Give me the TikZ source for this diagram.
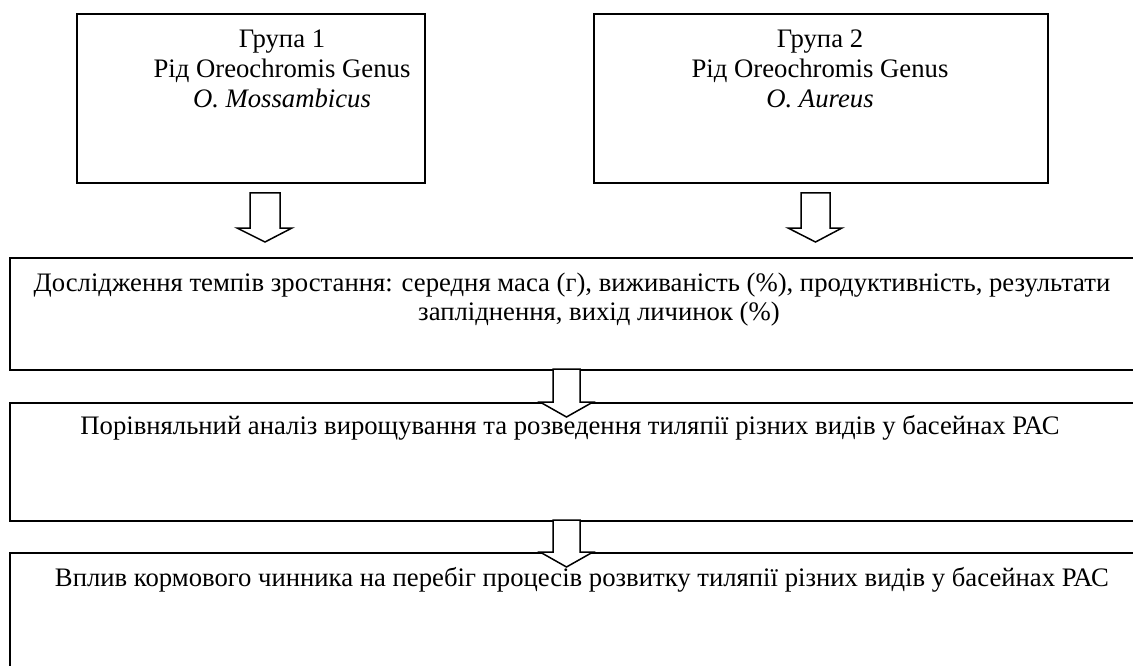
\documentclass[tikz,border=0pt]{standalone}
\usepackage{fontspec}
\setmainfont{Liberation Serif}
\usetikzlibrary{calc}
\newcommand\blockarr[7]{%
  \draw[blk] (#1,#3) -- (#1,#4) -- (#5,#4) -- ({(#1+#2)/2},#7) -- (#6,#4) -- (#2,#4) -- (#2,#3) -- cycle;}
\begin{document}
\begin{tikzpicture}[x=1pt,y=-1pt,
  box/.style={draw=black,line width=2pt,rectangle,inner sep=0pt,anchor=north west},
  txt/.style={font=\fontsize{26.7}{29.7}\selectfont,align=center,inner sep=0pt,anchor=north},
  blk/.style={draw=black,fill=white,line width=1.5pt,line join=miter}]
\useasboundingbox (0,0) rectangle (1133,666);
\clip (0,0) rectangle (1133,666);
% boxes
\node[box,minimum width=348pt,minimum height=169pt] (A) at (76,13) {};
\node[box,minimum width=454pt,minimum height=169pt] (B) at (593,13) {};
\node[box,minimum width=1140pt,minimum height=112pt] (C) at (9,257) {};
\node[box,minimum width=1140pt,minimum height=118pt] (D) at (9,402) {};
\node[box,minimum width=1140pt,minimum height=130pt] (E) at (9,552) {};
% texts
\node[txt] (tA) at (282,30) {Група 1\\Рід Oreochromis Genus\\\textit{O. Mossambicus}};
\node[txt] (tB) at (820,30) {Група 2\\Рід Oreochromis Genus\\\textit{O. Aureus}};
\node[txt] (tC) at (572,272.5) {Дослідження темпів зростання: середня маса (г), виживаність (\%), продуктивність, результати\\\hspace*{54pt}запліднення, вихід личинок (\%)};
\node[txt,anchor=base] (tD) at (570,434) {Порівняльний аналіз вирощування та розведення тиляпії різних видів у басейнах РАС};
\node[txt,anchor=base] (tE) at (582,586) {Вплив кормового чинника на перебіг процесів розвитку тиляпії різних видів у басейнах РАС};
% block arrows
\blockarr{250}{280}{193}{228}{237}{292}{242}
\blockarr{801}{830}{193}{228}{788}{842}{242}
\blockarr{553}{580}{369}{402}{540}{593}{417}
\blockarr{553}{580}{520}{552}{540}{593}{567}
\end{tikzpicture}
\end{document}
